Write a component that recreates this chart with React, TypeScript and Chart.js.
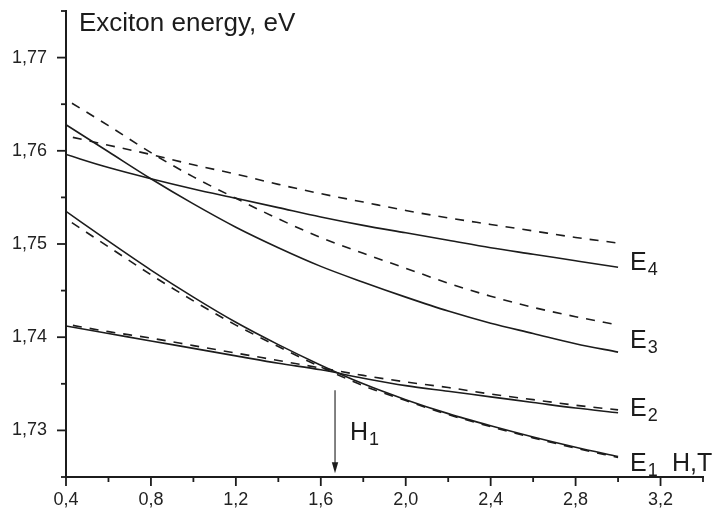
import { useEffect, useRef } from 'react';
import { Chart, registerables } from 'chart.js';

Chart.register(...registerables);

// Magnetic field, T
const fieldH = [0.4, 0.6, 0.8, 1.0, 1.2, 1.4, 1.6, 1.8, 2.0, 2.2, 2.4, 2.6, 2.8, 3.0];

// Exciton energies, eV (solid = full lines, dashed = broken lines)
const e1Solid = [1.7535, 1.7503, 1.7472, 1.7443, 1.7416, 1.7392, 1.7370, 1.7350, 1.7333, 1.7318, 1.7305, 1.7293, 1.7282, 1.7272];
const e1Dashed = [1.7527, 1.7497, 1.7467, 1.7439, 1.7413, 1.7390, 1.7368, 1.7348, 1.7332, 1.7317, 1.7304, 1.7292, 1.7281, 1.7271];
const e2Solid = [1.7412, 1.7404, 1.7396, 1.7388, 1.7380, 1.7372, 1.7365, 1.7356, 1.7348, 1.7342, 1.7336, 1.7330, 1.7324, 1.7319];
const e2Dashed = [1.7414, 1.7406, 1.7399, 1.7391, 1.7383, 1.7375, 1.7367, 1.7359, 1.7352, 1.7346, 1.7339, 1.7333, 1.7327, 1.7322];
const e3Solid = [1.7628, 1.7599, 1.7570, 1.7543, 1.7518, 1.7496, 1.7476, 1.7459, 1.7443, 1.7428, 1.7415, 1.7404, 1.7393, 1.7384];
const e3Dashed = [1.7655, 1.7627, 1.7598, 1.7572, 1.7549, 1.7527, 1.7507, 1.7490, 1.7474, 1.7458, 1.7444, 1.7432, 1.7422, 1.7413];
const e4Solid = [1.7596, 1.7582, 1.7570, 1.7559, 1.7549, 1.7539, 1.7529, 1.7520, 1.7512, 1.7504, 1.7496, 1.7489, 1.7482, 1.7475];
const e4Dashed = [1.7616, 1.7606, 1.7596, 1.7585, 1.7575, 1.7564, 1.7554, 1.7545, 1.7536, 1.7528, 1.7521, 1.7514, 1.7507, 1.7501];

// Axis ranges and ticks
const xMin = 0.4;
const xMax = 3.4;
const xStep = 0.2;
const yMin = 1.725;
const yMax = 1.775;
const yStep = 0.005;

// Texts
const titleText = 'Exciton energy, eV';
const axisUnitText = 'H,T';
const curveNames = ['E', 'E', 'E', 'E'];
const curveSubs = ['4', '3', '2', '1'];
const curveLabelE = [1.7472, 1.7388, 1.7315, 1.7256];
const h1Field = 1.667;
const h1ArrowTop = 1.7343;
const h1ArrowTip = 1.7254;

const INK = '#1c1c1c';
const FONT = '"Liberation Sans", Arial, Helvetica, sans-serif';

const pts = (ys: number[]) => ys.map((y, i) => ({ x: fieldH[i], y }));

const isMajorX = (v: number) => Math.round(v * 10) % 4 === 0;
const isMajorY = (v: number) => Math.round(v * 200) % 2 === 0;

const annotate = {
  id: 'annotate',
  afterDraw(chart: any) {
    const { ctx, chartArea } = chart;
    const xs = chart.scales.x;
    const ys = chart.scales.y;
    ctx.save();
    ctx.strokeStyle = INK;
    ctx.lineWidth = 1.8;
    // tick marks
    ys.ticks.forEach((t: any) => {
      const p = ys.getPixelForValue(t.value);
      const len = isMajorY(t.value) ? 9 : 5;
      ctx.beginPath();
      ctx.moveTo(chartArea.left - len, p);
      ctx.lineTo(chartArea.left, p);
      ctx.stroke();
    });
    xs.ticks.forEach((t: any) => {
      const p = xs.getPixelForValue(t.value);
      const len = isMajorX(t.value) ? 9 : 5;
      ctx.beginPath();
      ctx.moveTo(p, chartArea.bottom);
      ctx.lineTo(p, chartArea.bottom + len);
      ctx.stroke();
    });

    ctx.fillStyle = INK;
    ctx.textBaseline = 'alphabetic';
    ctx.textAlign = 'left';
    // title
    ctx.font = `26px ${FONT}`;
    ctx.fillText(titleText, chartArea.left + 13, chartArea.top + 20);

    // curve labels
    const lx = xs.getPixelForValue(3.0) + 12;
    curveNames.forEach((n, i) => {
      const py = ys.getPixelForValue(curveLabelE[i]);
      ctx.font = `25px ${FONT}`;
      ctx.fillText(n, lx, py);
      const w = ctx.measureText(n).width;
      ctx.font = `18px ${FONT}`;
      ctx.fillText(curveSubs[i], lx + w + 1, py + 5);
    });
    // H,T
    ctx.font = `25px ${FONT}`;
    ctx.fillText(axisUnitText, xs.getPixelForValue(3.0) + 54, ys.getPixelForValue(curveLabelE[3]));

    // H1 arrow
    const ax = xs.getPixelForValue(h1Field);
    const aTop = ys.getPixelForValue(h1ArrowTop);
    const aTip = ys.getPixelForValue(h1ArrowTip);
    ctx.lineWidth = 1.1;
    ctx.beginPath();
    ctx.moveTo(ax, aTop);
    ctx.lineTo(ax, aTip - 8);
    ctx.stroke();
    ctx.beginPath();
    ctx.moveTo(ax, aTip);
    ctx.lineTo(ax - 3.2, aTip - 11);
    ctx.lineTo(ax + 3.2, aTip - 11);
    ctx.closePath();
    ctx.fill();
    // H1 label
    const hy = ys.getPixelForValue(1.7290);
    ctx.font = `25px ${FONT}`;
    ctx.fillText('H', ax + 15, hy);
    const hw = ctx.measureText('H').width;
    ctx.font = `18px ${FONT}`;
    ctx.fillText('1', ax + 15 + hw + 1, hy + 5);
    ctx.restore();
  },
};

export default function App() {
  const ref = useRef<HTMLCanvasElement>(null);
  useEffect(() => {
    const solid = (data: number[]) => ({
      data: pts(data),
      borderColor: INK,
      borderWidth: 1.6,
      pointRadius: 0,
      cubicInterpolationMode: 'monotone',
      fill: false,
    });
    const dashed = (data: number[]) => ({
      data: pts(data),
      borderColor: INK,
      borderWidth: 1.6,
      borderDash: [9, 8],
      borderDashOffset: 10,
      pointRadius: 0,
      cubicInterpolationMode: 'monotone',
      fill: false,
    });
    const chart = new Chart(ref.current as HTMLCanvasElement, {
      type: 'line',
      data: {
        datasets: [
          solid(e1Solid), dashed(e1Dashed),
          solid(e2Solid), dashed(e2Dashed),
          solid(e3Solid), dashed(e3Dashed),
          solid(e4Solid), dashed(e4Dashed),
        ] as any,
      },
      options: {
        responsive: false,
        animation: false,
        devicePixelRatio: 1,
        layout: { padding: { left: 0, top: 11, right: 14, bottom: 0 } },
        plugins: { legend: { display: false }, tooltip: { enabled: false }, title: { display: false } },
        scales: {
          x: {
            type: 'linear',
            min: xMin,
            max: xMax,
            grid: { display: false, drawTicks: false },
            border: { display: true, color: INK, width: 2 },
            ticks: {
              stepSize: xStep,
              autoSkip: false,
              maxRotation: 0,
              padding: 12,
              color: '#222',
              font: { family: FONT, size: 18 },
              callback: (v: any) => (isMajorX(Number(v)) ? Number(v).toFixed(1).replace('.', ',') : ''),
            },
            afterFit: (s: any) => { s.height = 38; s.paddingLeft = 0; s.paddingRight = 0; },
          },
          y: {
            type: 'linear',
            min: yMin,
            max: yMax,
            grid: { display: false, drawTicks: false },
            border: { display: true, color: INK, width: 2 },
            ticks: {
              stepSize: yStep,
              autoSkip: false,
              padding: 19,
              color: '#222',
              font: { family: FONT, size: 18 },
              callback: (v: any) => (isMajorY(Number(v)) ? Number(v).toFixed(2).replace('.', ',') : ''),
            },
            afterFit: (s: any) => { s.width = 66; s.paddingTop = 0; s.paddingBottom = 0; },
          },
        },
      },
      plugins: [annotate],
    });
    return () => chart.destroy();
  }, []);
  return (
    <div style={{ position: 'absolute', left: 0, top: 0, width: 717, height: 515, background: '#fff' }}>
      <canvas ref={ref} width={717} height={515} style={{ display: 'block', width: 717, height: 515 }} />
    </div>
  );
}
